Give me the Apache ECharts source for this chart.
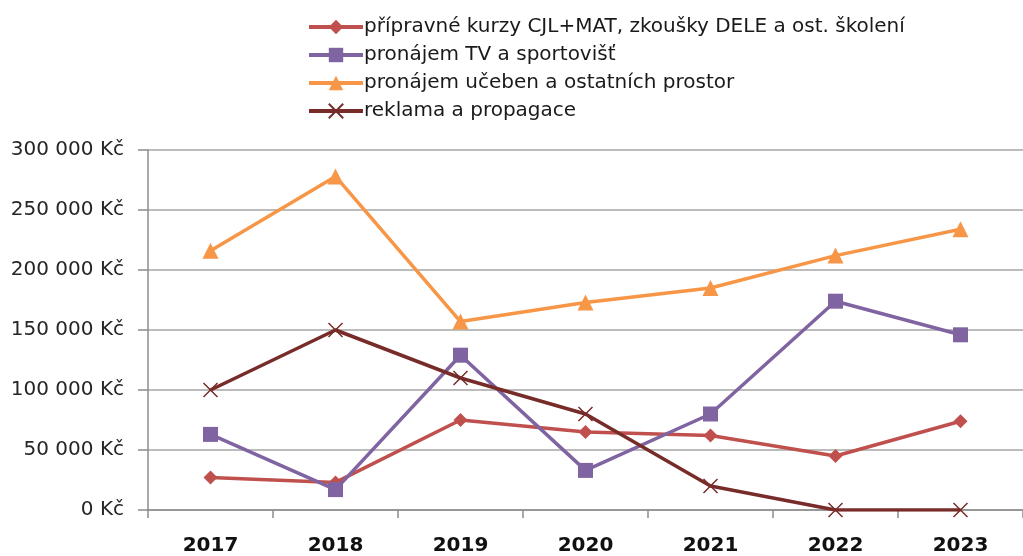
<!DOCTYPE html>
<html>
<head>
<meta charset="UTF-8">
<script src="https://cdn.jsdelivr.net/npm/echarts@6/dist/echarts.min.js"></script>
<style>
html, body { margin: 0; padding: 0; background: #fff; }
#main { width: 1023px; height: 556px; }
</style>
</head>
<body>
<div id="main"></div>
<script>
var years = ['2017', '2018', '2019', '2020', '2021', '2022', '2023'];
var kurzy = [27000, 23000, 75000, 65000, 62000, 45000, 74000];
var pronajemTV = [63000, 17000, 129000, 33000, 80000, 174000, 146000];
var pronajemUceben = [216000, 278000, 157000, 173000, 185000, 212000, 234000];
var reklama = [100000, 150000, 110000, 80000, 20000, 0, 0];
var seriesNames = [
    'přípravné kurzy CJL+MAT, zkoušky DELE a ost. školení',
    'pronájem TV a sportovišť',
    'pronájem učeben a ostatních prostor',
    'reklama a propagace'
];

var font = '"DejaVu Sans", sans-serif';
var crossPath = 'path://M0,0L10,10M10,0L0,10';

function fmtKc(v) {
    if (v === 0) return '0 Kč';
    return String(v).replace(/\B(?=(\d{3})+(?!\d))/g, ' ') + ' Kč';
}

var myChart = echarts.init(document.getElementById('main'));

var option = {
    animation: false,
    legend: {
        orient: 'vertical',
        left: 302,
        top: 12,
        itemWidth: 54,
        itemHeight: 18,
        itemGap: 8,
        lineStyle: { width: 4 },
        textStyle: { fontFamily: font, fontSize: 20, lineHeight: 18, color: '#1a1a1a', padding: [0, 0, 0, -4] },
        data: seriesNames
    },
    grid: {
        left: 148,
        top: 150,
        width: 884,
        height: 361
    },
    xAxis: {
        type: 'category',
        data: years,
        boundaryGap: true,
        axisLine: { lineStyle: { color: '#8c8c8c', width: 1.5 } },
        axisTick: { show: true, length: 8, lineStyle: { color: '#8c8c8c', width: 1.5 } },
        axisLabel: { fontFamily: font, fontSize: 20, fontWeight: 'bold', color: '#111', margin: 26 }
    },
    yAxis: {
        type: 'value',
        min: 0,
        max: 300000,
        interval: 50000,
        axisLine: { show: true, lineStyle: { color: '#8c8c8c', width: 1.5 } },
        axisTick: { show: true, length: 10, lineStyle: { color: '#8c8c8c', width: 1.5 } },
        splitLine: { lineStyle: { color: '#a6a6a6', width: 1.5 } },
        axisLabel: { fontFamily: font, fontSize: 20, color: '#262626', margin: 24, formatter: fmtKc }
    },
    series: [
        {
            name: seriesNames[0],
            type: 'line',
            data: kurzy,
            symbol: 'diamond',
            symbolSize: 14,
            lineStyle: { color: '#c0504d', width: 3.5 },
            itemStyle: { color: '#c0504d' }
        },
        {
            name: seriesNames[1],
            type: 'line',
            data: pronajemTV,
            symbol: 'rect',
            symbolSize: 15,
            lineStyle: { color: '#8064a2', width: 3.5 },
            itemStyle: { color: '#8064a2' }
        },
        {
            name: seriesNames[2],
            type: 'line',
            data: pronajemUceben,
            symbol: 'triangle',
            symbolSize: 16,
            lineStyle: { color: '#f79646', width: 3.5 },
            itemStyle: { color: '#f79646' }
        },
        {
            name: seriesNames[3],
            type: 'line',
            data: reklama,
            symbol: crossPath,
            symbolSize: 14,
            lineStyle: { color: '#772c2a', width: 3.5 },
            itemStyle: { color: 'rgba(0,0,0,0)', borderColor: '#772c2a', borderWidth: 1.5 }
        }
    ]
};

myChart.setOption(option);
</script>
</body>
</html>
